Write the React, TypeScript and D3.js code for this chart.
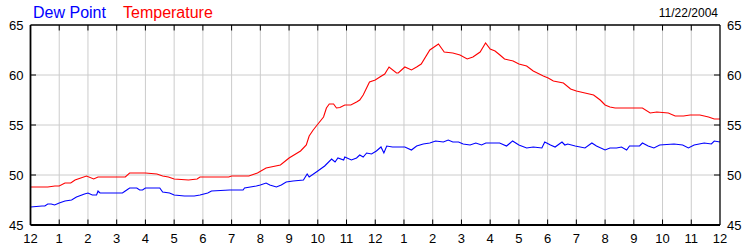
import React from "react";
import * as d3 from "d3";

const tempHours = [0,0.6,0.85,1.0,1.2,1.4,1.55,1.75,1.95,2.2,2.35,3.3,3.45,4.0,4.4,4.6,4.8,5.0,5.5,5.8,5.9,6.9,7.0,7.6,7.9,8.2,8.7,9.0,9.4,9.6,9.7,9.84,9.95,10.2,10.3,10.4,10.55,10.65,10.77,10.94,11.15,11.35,11.46,11.58,11.8,12.0,12.16,12.33,12.48,12.74,12.8,13.03,13.26,13.44,13.6,13.9,14.2,14.4,14.7,14.95,15.2,15.4,15.65,15.84,16.0,16.17,16.34,16.5,16.8,17.0,17.27,17.5,17.85,18.02,18.2,18.55,18.8,19.0,19.3,19.6,19.83,20.0,20.17,20.35,20.93,21.3,21.57,21.8,22.2,22.44,22.73,22.96,23.3,23.6,23.8,24];
const tempValues = [48.8,48.8,48.9,48.9,49.2,49.2,49.5,49.7,49.9,49.6,49.8,49.8,50.2,50.2,50.1,49.9,49.8,49.6,49.5,49.6,49.8,49.8,49.9,49.9,50.2,50.7,51.0,51.7,52.4,53.0,53.9,54.5,54.9,55.8,56.7,57.1,57.1,56.7,56.75,57.0,57.0,57.3,57.5,58.0,59.3,59.5,59.8,60.1,60.8,60.2,60.2,60.8,60.5,60.8,61.1,62.5,63.1,62.3,62.2,62.0,61.6,61.8,62.3,63.2,62.6,62.4,62.0,61.6,61.4,61.1,60.9,60.4,59.9,59.7,59.4,59.2,58.6,58.4,58.2,58.0,57.5,57.0,56.8,56.7,56.7,56.7,56.2,56.3,56.2,55.9,55.9,56.0,56.0,55.8,55.6,55.6];

const dewHours = [0,0.4,0.5,0.6,0.72,0.84,1.0,1.2,1.43,1.6,1.88,2.0,2.15,2.3,2.35,2.42,3.2,3.3,3.45,3.7,3.8,3.9,4.0,4.5,4.6,4.84,5.0,5.36,5.7,5.9,6.17,6.3,6.93,7.4,7.45,7.86,8.0,8.2,8.33,8.56,8.73,8.9,9.14,9.5,9.63,9.7,9.95,10.24,10.48,10.6,10.7,10.9,10.94,11.17,11.35,11.46,11.58,11.7,11.87,12.04,12.2,12.3,12.4,12.6,12.86,13.03,13.26,13.44,13.67,13.9,14.1,14.37,14.54,14.7,14.9,15.06,15.3,15.5,15.7,15.85,16.1,16.33,16.57,16.78,17.0,17.27,17.5,17.8,17.9,18.1,18.26,18.5,18.6,18.7,18.96,19.3,19.54,19.7,20.0,20.17,20.4,20.57,20.75,20.85,21.2,21.3,21.5,21.7,21.9,22.4,22.7,22.9,23.1,23.45,23.7,23.8,24];
const dewValues = [46.8,46.9,46.9,47.1,47.1,47.0,47.2,47.4,47.5,47.8,48.1,48.2,48.0,48.0,48.4,48.2,48.2,48.4,48.7,48.7,48.5,48.5,48.7,48.7,48.3,48.2,48.0,47.9,47.9,48.0,48.2,48.4,48.5,48.5,48.7,48.9,49.0,49.2,49.0,48.8,49.0,49.3,49.4,49.5,50.1,49.8,50.3,50.9,51.6,51.3,51.7,51.5,51.8,51.5,51.7,52.0,51.8,52.2,52.1,52.4,52.8,52.2,52.9,52.8,52.8,52.8,52.5,52.9,53.1,53.2,53.4,53.3,53.5,53.3,53.3,53.1,53.0,53.2,53.0,53.2,53.2,53.2,52.9,53.4,53.0,52.7,52.8,52.7,53.3,53.0,52.8,53.3,53.0,53.1,52.9,52.7,53.2,52.9,52.5,52.7,52.7,52.8,52.5,52.9,52.9,53.2,52.9,52.7,53.0,53.1,53.0,52.7,53.0,53.2,53.1,53.4,53.3];

const hourTicks = d3.range(0, 25);
const hourLabels = ["12","1","2","3","4","5","6","7","8","9","10","11","12","1","2","3","4","5","6","7","8","9","10","11","12"];
const yTicks = [45, 50, 55, 60, 65];
const dateLabel = "11/22/2004";

const W = 750, H = 250;
const L = 30.5, R = 720, T = 25, B = 225;
const FONT = "'Liberation Sans', Arial, sans-serif";

export default function App() {
  const x = d3.scaleLinear().domain([0, 24]).range([L, R]);
  const y = d3.scaleLinear().domain([45, 65]).range([B, T]);
  const temp = tempHours.map((h, i) => [h, tempValues[i]] as [number, number]);
  const dew = dewHours.map((h, i) => [h, dewValues[i]] as [number, number]);
  const line = d3.line<[number, number]>().x(d => x(d[0])).y(d => y(d[1]));
  return (
    <svg width={W} height={H} style={{ position: "absolute", left: 0, top: 0 }} fontFamily={FONT}>
      <rect width={W} height={H} fill="#fff" />
      {hourTicks.slice(1, -1).map(h => (
        <line key={"vg" + h} x1={x(h)} x2={x(h)} y1={T} y2={B} stroke="#cccccc" strokeWidth={1} />
      ))}
      {yTicks.slice(1, -1).map(v => (
        <line key={"hg" + v} x1={L} x2={R} y1={y(v)} y2={y(v)} stroke="#cccccc" strokeWidth={1} />
      ))}
      <path d={line(dew) || ""} fill="none" stroke="#0000ff" strokeWidth={1.1} />
      <path d={line(temp) || ""} fill="none" stroke="#ff0000" strokeWidth={1.1} />
      {hourTicks.slice(1, -1).map(h => (
        <g key={"tk" + h}>
          <line x1={x(h)} x2={x(h)} y1={B} y2={B - 5.5} stroke="#000" strokeWidth={1} />
          <line x1={x(h)} x2={x(h)} y1={T} y2={T + 5.5} stroke="#000" strokeWidth={1} />
        </g>
      ))}
      {yTicks.slice(1, -1).map(v => (
        <g key={"yt" + v}>
          <line x1={L} x2={L + 5.5} y1={y(v)} y2={y(v)} stroke="#000" strokeWidth={1} />
          <line x1={R - 6} x2={R} y1={y(v)} y2={y(v)} stroke="#000" strokeWidth={1} />
        </g>
      ))}
      <line x1={L} x2={R} y1={T} y2={T} stroke="#000" strokeWidth={1.3} />
      <line x1={R} x2={R} y1={T} y2={B} stroke="#000" strokeWidth={1.3} />
      <line x1={L} x2={L} y1={T} y2={B} stroke="#000" strokeWidth={1.8} />
      <line x1={L} x2={R} y1={B} y2={B} stroke="#000" strokeWidth={1.8} />
      {yTicks.map(v => (
        <g key={"yl" + v} fontSize={13} fill="#000">
          <text x={23.5} y={y(v)} dy="0.35em" textAnchor="end">{v}</text>
          <text x={727} y={y(v)} dy="0.35em" textAnchor="start">{v}</text>
        </g>
      ))}
      {hourTicks.map(h => (
        <text key={"xl" + h} x={x(h)} y={242.5} textAnchor="middle" fontSize={13} fill="#000">{hourLabels[h]}</text>
      ))}
      <text x={33} y={17.5} fontSize={16} fill="#0000ff">Dew Point</text>
      <text x={123} y={17.5} fontSize={16} fill="#ff0000">Temperature</text>
      <text x={718} y={16.7} fontSize={12} textAnchor="end" fill="#000">{dateLabel}</text>
    </svg>
  );
}
